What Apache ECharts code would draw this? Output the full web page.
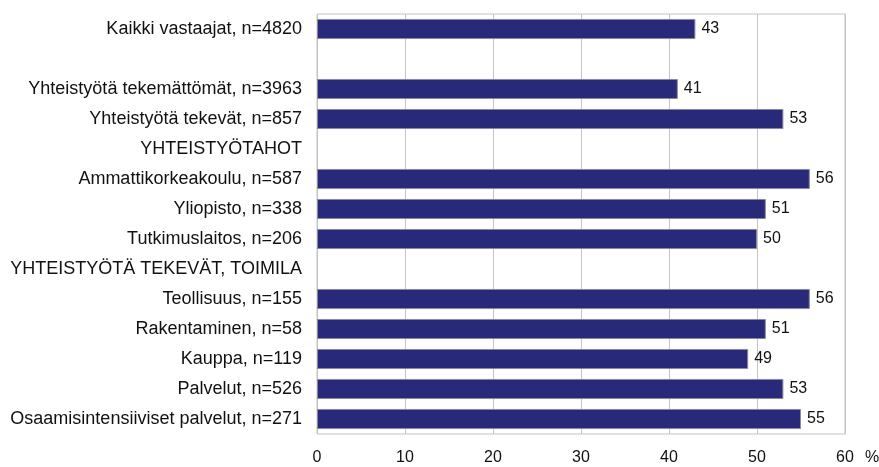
<!DOCTYPE html>
<html>
<head>
<meta charset="utf-8">
<script src="https://cdn.jsdelivr.net/npm/echarts@6/dist/echarts.min.js"></script>
<style>
html,body{margin:0;padding:0;background:#fff;}
#chart{width:879px;height:467px;}
</style>
</head>
<body>
<div id="chart"></div>
<script>
var categories = [
  'Kaikki vastaajat, n=4820',
  '',
  'Yhteistyötä tekemättömät, n=3963',
  'Yhteistyötä tekevät, n=857',
  'YHTEISTYÖTAHOT',
  'Ammattikorkeakoulu, n=587',
  'Yliopisto, n=338',
  'Tutkimuslaitos, n=206',
  'YHTEISTYÖTÄ TEKEVÄT, TOIMILA',
  'Teollisuus, n=155',
  'Rakentaminen, n=58',
  'Kauppa, n=119',
  'Palvelut, n=526',
  'Osaamisintensiiviset palvelut, n=271'
];
var values = [43, null, 41, 53, null, 56, 51, 50, null, 56, 51, 49, 53, 55];
var xTicks = [0, 10, 20, 30, 40, 50, 60];
var unitLabel = '%';

var FONT = '"Liberation Sans Narrow", "Liberation Sans", Arial, sans-serif';
var chart = echarts.init(document.getElementById('chart'));
chart.setOption({
  animation: false,
  grid: {
    left: 317, right: 34, top: 14, bottom: 33,
    show: true, borderColor: '#c4c4c4', borderWidth: 1,
    containLabel: false, outerBoundsMode: 'none'
  },
  xAxis: {
    type: 'value',
    min: xTicks[0], max: xTicks[xTicks.length - 1], interval: 10,
    axisLine: {show: false},
    axisTick: {show: false},
    splitLine: {show: true, lineStyle: {color: '#c4c4c4', width: 1}},
    axisLabel: {
      color: '#111', fontFamily: FONT, fontSize: 16, margin: 16
    },
    name: unitLabel,
    nameLocation: 'end',
    nameGap: 20,
    nameTextStyle: {
      color: '#111', fontFamily: FONT, fontSize: 16,
      verticalAlign: 'top', lineHeight: 48
    }
  },
  yAxis: {
    type: 'category',
    inverse: true,
    data: categories,
    axisLine: {show: false},
    axisTick: {show: false},
    splitLine: {show: false},
    axisLabel: {
      color: '#111', fontFamily: FONT, fontSize: 18, margin: 15, interval: 0
    }
  },
  series: [{
    type: 'bar',
    data: values,
    barCategoryGap: '33%',
    itemStyle: {color: '#29297a', borderColor: '#8a8a9a', borderWidth: 1},
    label: {
      show: true, position: 'right', distance: 6,
      color: '#111', fontFamily: FONT, fontSize: 16
    }
  }]
});
</script>
</body>
</html>
